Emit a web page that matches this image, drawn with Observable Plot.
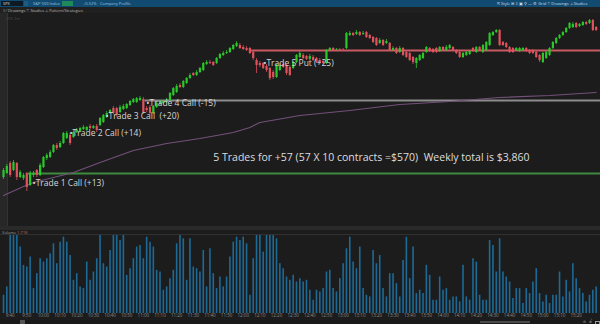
<!DOCTYPE html>
<html><head><meta charset="utf-8">
<script src="https://cdn.jsdelivr.net/npm/d3@7"></script>
<script src="https://cdn.jsdelivr.net/npm/@observablehq/plot@0.6"></script>
<style>
html,body{margin:0;padding:0;background:#1c1c1c;width:600px;height:324px;overflow:hidden;font-family:"Open Sans",sans-serif;}
#root{position:relative;width:600px;height:324px;background:#1c1c1c;}
.a{position:absolute;}
.t{position:absolute;font-size:4px;line-height:5px;white-space:nowrap;}
.ic{position:absolute;top:320.5px;font-size:3.5px;line-height:3.5px;color:#aaa;font-family:"DejaVu Sans",sans-serif;}
svg text{white-space:pre;}
</style></head><body><div id="root">
<div class="a" style="left:0;top:0;width:600px;height:7px;background:#114b72;"></div>
<div class="a" style="left:1px;top:1px;width:22px;height:5px;background:#0d1a24;"></div>
<div class="t" style="left:3px;top:1px;color:#ddd;">SPX</div>
<div class="a" style="left:24px;top:1px;width:4px;height:5px;background:#1d5a85;"></div>
<div class="t" style="left:33px;top:1px;color:#9cc3e0;">S&amp;P 500 Index</div>
<div class="a" style="left:62px;top:1px;width:11px;height:5px;background:#1e8a5a;"></div>
<div class="t" style="left:83px;top:1px;color:#9cc3e0;">+0.52%</div>
<div class="t" style="left:100px;top:1px;color:#9cc3e0;">Company Profile</div>
<div class="t" style="left:497px;top:1px;color:#cfdde8;">⇱ Style  ⊞  ⇩  ▣   ⚲ —  ⚙ Grid   ⊤ Drawings   ⊥ Studies</div>
<div class="a" style="left:0;top:7px;width:600px;height:6px;background:#202020;"></div>
<div class="t" style="left:3px;top:7.5px;color:#bbb;">≡ ⁄ Drawings   ⊤ Studies   ⊥ Pattern/Strategies</div>
<div class="a" style="left:0;top:13px;width:7px;height:213px;background:#272727;border-right:1px solid #333;"></div>
<div class="t" style="left:6px;top:16px;color:#4a4a4a;">SPX 2m</div>
<div id="price" class="a" style="left:0;top:13px;"></div>
<div class="a" style="left:0;top:226px;width:600px;height:4px;background:#2a2a2a;"></div>
<div class="a" style="left:0;top:234px;width:600px;height:1px;background:#303030;"></div>
<div class="t" style="left:2px;top:230px;color:#9a9a9a;">Volume <span style="color:#b07a9a">1.71K</span></div>
<div id="vol" class="a" style="left:0;top:230px;"></div>
<div class="a" style="left:0;top:319.5px;width:600px;height:4.5px;background:#191919;"></div>
<div class="a" style="left:20px;top:320px;width:5px;height:4px;background:#555;"></div>
<div class="a" style="left:480px;top:320.5px;width:50px;height:2px;background:#4a4a4a;"></div>
<div class="ic" style="left:583px;">⊖</div>
<div class="ic" style="left:589px;">⊕</div>
<div class="a" style="left:595px;top:321px;width:3px;height:2px;border:0.5px solid #999;"></div>
</div>
<script>
const opens = [63,67,77,70,77,63,62,67,55,65, 70,65,73,82,83,88,95,93,97,102, 105,103,108,109,111,110,114,112,114,115, 118,123,127,132,132,128,131,132,135,138, 138,140,141,132,133,127,133,136,137,138, 140,145,148,155,153,157,162,167,165,168, 170,176,178,178,177,182,185,187,188,191, 194,195,193,192,192,188,180,177,177,174, 172,168,163,170,176,175,173,172,178,183, 185,184,181,183,182,180,179,177,190,192, 190.5,191,191,192,205,207,206,208,206,208, 205,203,202,197,200,197,197,190,192,188, 192,188,187,183,177,180,182,188,192,191, 192,189,193,190,192,193,190,188,183,185, 186,192,188,193,188,190,195,205,208,210, 198,197,193,192,190,189,190,192,190,190, 188,185,178,182,185,192,197,202,205,208, 212,213,217,214,215,218,217,220,213];
const closes = [70,74,65,78,63,68,65,53,67,67, 65,75,83,85,88,95,92,97,107,107, 97,108,110,112,113,113,112,114,110,122, 125,127,130,127,125,133,134,136,139,141, 142,142,128,130,127,134,137,138,139,140, 147,152,154,153,159,162,165,165,168,172, 177,178,177,175,182,186,187,188,192,195, 197,192,191,190,187,182,175,175,172,170, 162,163,175,175,173,167,165,178,185,187, 182,181,184,180,178,177,177,190,192,190, 191,190.5,190.8,207,207,205,208,205,207,203, 202,198,195,200,195,199,190,192,187,192, 185,183,180,178,182,185,187,193,189,188, 188,193,190,193,195,190,187,183,187,188, 189,189,193,190,195,198,207,208,210,195, 195,193,188,188,192,192,192,189,187,187, 183,180,187,188,192,198,202,205,208,212, 217,216,213,216,218,216,220,210,210];
const highs = [72,76,79,80,78,70,67,68,69,69, 71,77,84,87,90,96,97,99,108,109, 107,110,112,113,115,114,116,115,116,123, 126,129,131,134,133,135,136,137,140,142, 143,144,143,134,135,135,138,140,140,142, 148,153,156,157,160,163,167,168,170,173, 178,180,180,179,183,187,189,190,193,196, 199,197,195,194,193,189,182,179,178,176, 173,170,176,177,178,176,175,179,186,189, 187,185,186,185,183,182,181,191,193,193, 192,192,192,208,209,208,210,209,209,209, 206,204,203,202,201,201,198,194,193,194, 193,189,188,184,183,186,188,194,193,192, 193,194,194,195,196,194,191,189,188,189, 190,193,194,194,196,199,208,209,211,211, 199,198,194,193,193,193,193,193,191,191, 189,186,188,189,193,199,203,206,209,213, 218,218,218,217,219,219,221,221,214];
const lows = [61,66,63,69,60,62,60,49,54,63, 63,64,72,80,82,87,90,92,96,101, 95,102,107,108,110,109,111,111,108,114, 117,122,126,126,123,127,130,131,134,137, 137,139,126,128,125,126,132,135,136,137, 139,144,147,152,152,156,161,164,164,167, 169,175,176,174,176,181,184,186,187,190, 193,191,190,189,186,180,167,173,171,168, 160,161,162,169,172,165,164,171,177,182, 181,180,180,179,177,176,176,176,189,189, 190,190,190,191,204,204,205,204,205,202, 201,197,194,196,194,196,189,189,186,187, 184,182,179,176,172,179,181,187,188,187, 187,188,189,189,191,189,186,182,182,184, 185,188,187,189,187,189,194,204,207,194, 194,192,187,187,189,188,189,188,186,186, 182,178,177,181,184,191,196,201,204,207, 211,212,212,213,214,215,216,209,209];
const volumes = [55,80,235,235,235,200,145,140,170,75, 120,165,155,165,180,210,150,215,230,215, 175,100,120,80,75,155,100,125,165,235, 150,140,190,235,235,220,235,115,135,165, 200,205,165,230,215,200,130,125,70,80, 105,130,210,235,225,100,225,140,135,125, 190,80,195,120,75,110,80,110,170,215, 230,220,230,210,55,165,235,235,185,235, 235,235,225,150,135,110,100,115,95,105, 95,100,70,40,70,65,75,125,130,75, 65,105,150,195,230,155,135,200,75,55, 50,190,150,175,75,50,120,120,90,50, 160,230,105,200,60,70,60,145,115,40, 40,110,70,75,40,50,50,35,145,50, 40,165,155,55,40,40,220,205,125,225, 125,110,95,45,75,75,30,75,60,95, 135,60,35,55,30,55,55,125,50,100, 65,150,105,75,60,35,55,70,80];
const maIdx = [0,6,9,15,21,29,39,49,59,69,74,77,89,104,119,134,149,164,178];
const maVal = [45,54,58,63,68,78,90,97,102,108,113,118,125,130,136,139,143,145,148];
const levelPrice = [67,140,190];
const levelFrom = [7.5,42.5,74.5];
const levelColor = ["#3e8a3e","#8c8c8c","#c85a64"];
const tradeLabels = ["•Trade 1 Call (+13)","•Trade 2 Call (+14)","•Trade 3 Call  (+20)","•Trade 4 Call (-15)","•Trade 5 Put (+25)"];
const tradeIdx = [8.7,19.8,30.6,42.9,78];
const tradePrice = [57,107,124,137,177];
const summaryText = "5 Trades for +57 (57 X 10 contracts =$570)  Weekly total is $3,860";
const summaryIdx = 63, summaryPrice = 83;
const timeLabels = ["9:40","9:50","10:00","10:10","10:20","10:30","10:40","10:50","11:00","11:10","11:20","11:30","11:40","11:50","12:00","12:10","12:20","12:30","12:40","12:50","13:00","13:10","13:20","13:30","13:40","13:50","14:00","14:10","14:20","14:30","14:40","14:50","15:00","15:10","15:20"];

const UP = "#2ac92a", DOWN = "#e0525e";
const xDomain = [-0.9, 179.3];
const candles = opens.map((o, i) => ({i, open: o, close: closes[i], high: highs[i], low: lows[i], color: closes[i] >= o ? UP : DOWN}));
const ma = maIdx.map((i, k) => ({i, v: maVal[k]}));
const levels = levelPrice.map((p, k) => ({price: p, from: levelFrom[k], to: xDomain[1], color: levelColor[k]}));
const trades = tradeLabels.map((t, k) => ({t, i: tradeIdx[k], p: tradePrice[k]}));
const vols = volumes.map((v, i) => ({i, v}));
const tickIdx = timeLabels.map((_, k) => 2 + 5 * k);
const tickMap = new Map(tickIdx.map((d, k) => [d, timeLabels[k]]));

const price = Plot.plot({
  width: 600, height: 213, margin: 0,
  style: {background: "transparent", overflow: "visible"},
  x: {domain: xDomain, axis: null},
  y: {domain: [14, 227], axis: null},
  marks: [
    Plot.ruleY(levels, {y: "price", x1: "from", x2: "to", stroke: "color", strokeWidth: 2}),
    Plot.line(ma, {x: "i", y: "v", stroke: "#74507a", strokeWidth: 1.1}),
    Plot.ruleX(candles, {x: "i", y1: "low", y2: "high", stroke: "color", strokeWidth: 0.8}),
    Plot.ruleX(candles, {x: "i", y1: "open", y2: "close", stroke: "color", strokeWidth: 2.2}),
    Plot.text(trades, {x: "i", y: "p", text: "t", textAnchor: "start", fill: "#d6d6d6", fontSize: 8.5, fontFamily: "Open Sans"}),
    Plot.text([summaryText], {x: summaryIdx, y: summaryPrice, text: d => d, textAnchor: "start", fill: "#dedede", fontSize: 10.5, fontFamily: "Open Sans"})
  ]
});
document.getElementById("price").appendChild(price);

const vol = Plot.plot({
  width: 600, height: 94, marginTop: 5, marginBottom: 11, marginLeft: 0, marginRight: 0,
  style: {background: "transparent", overflow: "visible"},
  x: {domain: xDomain, axis: null},
  y: {domain: [0, 235], axis: null},
  marks: [
    Plot.ruleX(vols, {x: "i", y1: 0, y2: "v", stroke: "#1d6a97", strokeWidth: 1.6}),
    Plot.axisX({ticks: tickIdx, tickFormat: d => tickMap.get(d), tickSize: 0, tickPadding: 0, fontSize: 4.5, fill: "#8a8a8a", fontFamily: "Open Sans"})
  ]
});
document.getElementById("vol").appendChild(vol);
</script>
</body></html>
